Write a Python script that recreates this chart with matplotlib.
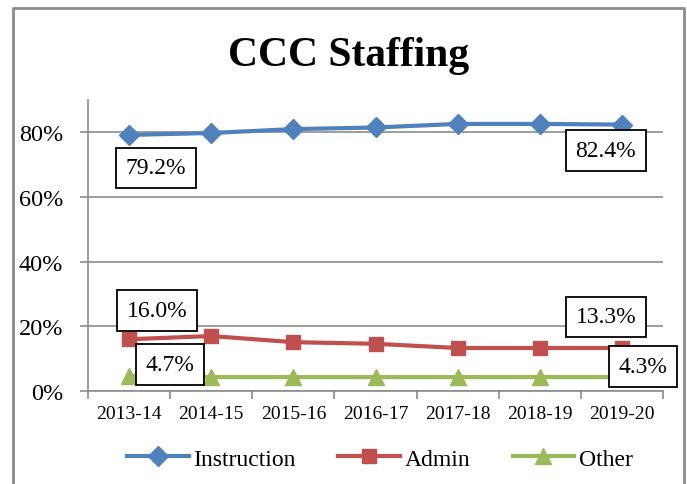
import matplotlib.pyplot as plt
from matplotlib.lines import Line2D
from matplotlib.ticker import FuncFormatter, FixedLocator

years = ["2013-14", "2014-15", "2015-16", "2016-17", "2017-18", "2018-19", "2019-20"]
instruction = [0.792, 0.798, 0.810, 0.815, 0.826, 0.826, 0.824]
admin = [0.160, 0.170, 0.151, 0.146, 0.133, 0.133, 0.133]
other = [0.047, 0.043, 0.043, 0.043, 0.043, 0.043, 0.043]

blue = "#4F81BD"
red = "#C0504D"
green = "#9BBB59"

plt.rcParams["font.family"] = ["Liberation Serif", "DejaVu Serif"]

fig = plt.figure(figsize=(6.87, 4.85), dpi=100)
ax = fig.add_axes([88 / 687, 1 - 392 / 485, (663 - 88) / 687, (392 - 101) / 485])

x = list(range(len(years)))
ax.plot(x, instruction, color=blue, lw=3, marker="D", ms=10, label="Instruction", zorder=3)
ax.plot(x, admin, color=red, lw=3, marker="s", ms=10, label="Admin", zorder=3)
ax.plot(x, other, color=green, lw=3, marker="^", ms=11, label="Other", zorder=3)

ax.set_xlim(-0.5, len(years) - 0.5)
ax.set_ylim(0, 0.9)
ax.set_yticks([0, 0.2, 0.4, 0.6, 0.8])
ax.yaxis.set_major_formatter(FuncFormatter(lambda v, p: f"{v*100:.0f}%"))
ax.grid(axis="y", color="#8c8c8c", lw=1.2)
ax.set_axisbelow(True)

ax.set_xticks(x)
ax.set_xticklabels(years, fontsize=14)
ax.xaxis.set_minor_locator(FixedLocator([i - 0.5 for i in range(len(years) + 1)]))
ax.tick_params(axis="x", which="major", length=0, pad=10)
ax.tick_params(axis="x", which="minor", length=6, color="#8c8c8c", width=1.2)
ax.tick_params(axis="y", labelsize=17.5, length=6, color="#8c8c8c", width=1.2, pad=12)

for s in ["top", "right"]:
    ax.spines[s].set_visible(False)
for s in ["left", "bottom"]:
    ax.spines[s].set_color("#8c8c8c")
    ax.spines[s].set_linewidth(1.2)

box = dict(boxstyle="square,pad=0.42", fc="white", ec="black", lw=1.3)


def label(i, vals, dx, dy):
    ax.annotate(f"{vals[i]*100:.1f}%", (i, vals[i]), xytext=(dx, dy),
                textcoords="offset pixels", ha="center", va="center",
                fontsize=17, bbox=box, zorder=5)


label(0, instruction, 27, -33)
label(6, instruction, -16, -26)
label(0, admin, 28, 29)
label(6, admin, -16, 31)
label(0, other, 41, 11)
label(6, other, 21, 11)

fig.text(349 / 687, 1 - 56 / 485, "CCC Staffing", ha="center", va="center",
         fontsize=30, fontweight="bold")

handles = [Line2D([], [], color=blue, lw=3, marker="D", ms=10),
           Line2D([], [], color=red, lw=3, marker="s", ms=10),
           Line2D([], [], color=green, lw=3, marker="^", ms=11)]
fig.legend(handles, ["Instruction", "Admin", "Other"], loc="center",
           bbox_to_anchor=(380 / 687, 1 - 460 / 485), ncol=3, frameon=False,
           fontsize=17, handlelength=2.6, columnspacing=1.8, handletextpad=0.2)

# chart outer border (left, top, right)
fig.add_artist(Line2D([13 / 687, 13 / 687, 684 / 687, 684 / 687],
                      [0, 1 - 9 / 485, 1 - 9 / 485, 0],
                      color="#8c8c8c", lw=2, transform=fig.transFigure))

fig.savefig("out.png", dpi=100)
